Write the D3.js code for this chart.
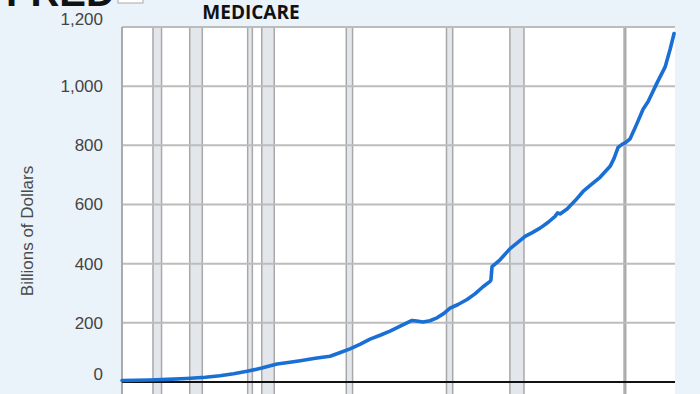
<!DOCTYPE html>
<html>
<head>
<meta charset="utf-8">
<script src="https://cdn.jsdelivr.net/npm/d3@7"></script>
<style>
  body { margin: 0; background: #eaf2fa; }
  svg { display: block; }
</style>
</head>
<body>
<script>
// Medicare, billions of dollars
var years = [1966.62, 1968.0, 1969.6, 1971.5, 1973.5, 1975.5, 1977.05, 1978.5, 1979.93, 1981.5, 1983.13,
    1984.5, 1985.6, 1987.2, 1988.77, 1989.8, 1990.9, 1992.0, 1993.03, 1994.1, 1995.16, 1996.3,
    1997.5, 1998.0, 1998.67, 1999.4, 2000.16, 2000.9, 2001.55, 2002.4, 2003.36, 2004.2, 2005.06,
    2005.81, 2005.9, 2006.02, 2006.87, 2007.94, 2008.7, 2009.54, 2010.3, 2011.13, 2012.0, 2012.73,
    2013.0, 2013.26, 2014.01, 2014.9, 2015.71, 2016.6, 2017.52, 2018.59, 2019.0, 2019.44, 2019.9,
    2020.19, 2020.72, 2021.4, 2022.1, 2022.64, 2023.6, 2024.45, 2024.98, 2025.4];
var values = [5, 6, 7, 9, 12, 16, 21, 28, 36, 47, 61,
    67, 72, 80, 87, 99, 112, 128, 145, 158, 172, 190,
    208, 206, 203, 207, 217, 232, 250, 262, 279, 298, 322,
    340, 345, 390, 413, 451, 470, 492, 505, 520, 540, 560,
    572, 568, 585, 614, 644, 668, 692, 729, 755, 793, 804,
    808, 822, 870, 922, 948, 1012, 1065, 1125, 1178];

var recessions = [[1969.92, 1970.83], [1973.83, 1975.17], [1980.0, 1980.5], [1981.5, 1982.83],
    [1990.5, 1991.17], [2001.17, 2001.83], [2007.92, 2009.42], [2020.08, 2020.25]];

var yTicks = [0, 200, 400, 600, 800, 1000, 1200];

(function() {
    var W = 700, H = 394,
        plotL = 122, plotR = 675, plotT = 27, zeroY = 382;

    var svg = d3.select("body").append("svg")
        .attr("width", W)
        .attr("height", H);

    var x = d3.scaleLinear().domain([1966.62, 2025.5]).range([plotL, plotR]);
    var y = d3.scaleLinear().domain([0, 1200]).range([zeroY, plotT]);

    // FRED logo, cut off at the top
    svg.append("text")
        .attr("x", 6).attr("y", 6)
        .style("font-family", "Liberation Sans, Arial, sans-serif")
        .style("font-weight", "bold")
        .style("font-size", "40px")
        .style("fill", "#111")
        .text("FRED");
    svg.append("rect")
        .attr("x", 118).attr("y", -10)
        .attr("width", 25).attr("height", 13)
        .style("fill", "#fff").style("stroke", "#aaa").style("stroke-width", 1);

    // title
    svg.append("text")
        .attr("x", 251).attr("y", 19)
        .attr("text-anchor", "middle")
        .style("font-family", "Open Sans, sans-serif")
        .style("font-weight", "bold")
        .style("font-size", "19px")
        .style("fill", "#111")
        .text("MEDICARE");

    // plot area
    svg.append("rect")
        .attr("x", plotL).attr("y", plotT)
        .attr("width", plotR - plotL).attr("height", H - plotT + 10)
        .style("fill", "#fff");

    svg.selectAll("rect.rec")
        .data(recessions)
        .enter().append("rect")
        .attr("class", "rec")
        .attr("x", function(d){ return x(d[0]); })
        .attr("y", plotT)
        .attr("width", function(d){ return Math.max(1, x(d[1]) - x(d[0])); })
        .attr("height", H - plotT + 10)
        .style("fill", "#e3e7ec")
        .style("stroke", "#a8a8a8")
        .style("stroke-width", 1.5);

    // horizontal grid
    svg.selectAll("line.grid")
        .data(yTicks.filter(function(d){ return d > 0; }))
        .enter().append("line")
        .attr("class", "grid")
        .attr("x1", plotL).attr("x2", plotR)
        .attr("y1", function(d){ return y(d); })
        .attr("y2", function(d){ return y(d); })
        .style("stroke", "#bcbcbc")
        .style("stroke-width", 2);

    // left border
    svg.append("line")
        .attr("x1", plotL).attr("x2", plotL)
        .attr("y1", plotT).attr("y2", H + 10)
        .style("stroke", "#aaa").style("stroke-width", 2);

    // zero line
    svg.append("line")
        .attr("x1", plotL).attr("x2", plotR)
        .attr("y1", y(0)).attr("y2", y(0))
        .style("stroke", "#111").style("stroke-width", 2);

    // y axis labels
    var yAxis = d3.axisLeft(y)
        .tickValues(yTicks)
        .tickFormat(d3.format(","))
        .tickSize(0)
        .tickPadding(0);

    var gy = svg.append("g")
        .attr("transform", "translate(" + (plotL - 19) + ",0)")
        .call(yAxis);
    gy.select(".domain").remove();
    gy.selectAll("text")
        .style("font-family", "Liberation Sans, Arial, sans-serif")
        .style("font-size", "17px")
        .style("fill", "#444")
        .attr("dy", function(d){ return (d === 0 || d === 1200) ? "-0.12em" : "0.32em"; });

    svg.append("text")
        .attr("transform", "translate(33,231) rotate(-90)")
        .attr("text-anchor", "middle")
        .style("font-family", "Liberation Sans, Arial, sans-serif")
        .style("font-size", "17px")
        .style("fill", "#4a4a4a")
        .text("Billions of Dollars");

    // series
    var pts = years.map(function(yr, i){ return [yr, values[i]]; });
    var line = d3.line()
        .x(function(d){ return x(d[0]); })
        .y(function(d){ return y(d[1]); });

    svg.append("path")
        .datum(pts)
        .attr("d", line)
        .style("fill", "none")
        .style("stroke", "#1a6fd4")
        .style("stroke-width", 3.6)
        .style("stroke-linejoin", "round")
        .style("stroke-linecap", "round");
})();
</script>
</body>
</html>
